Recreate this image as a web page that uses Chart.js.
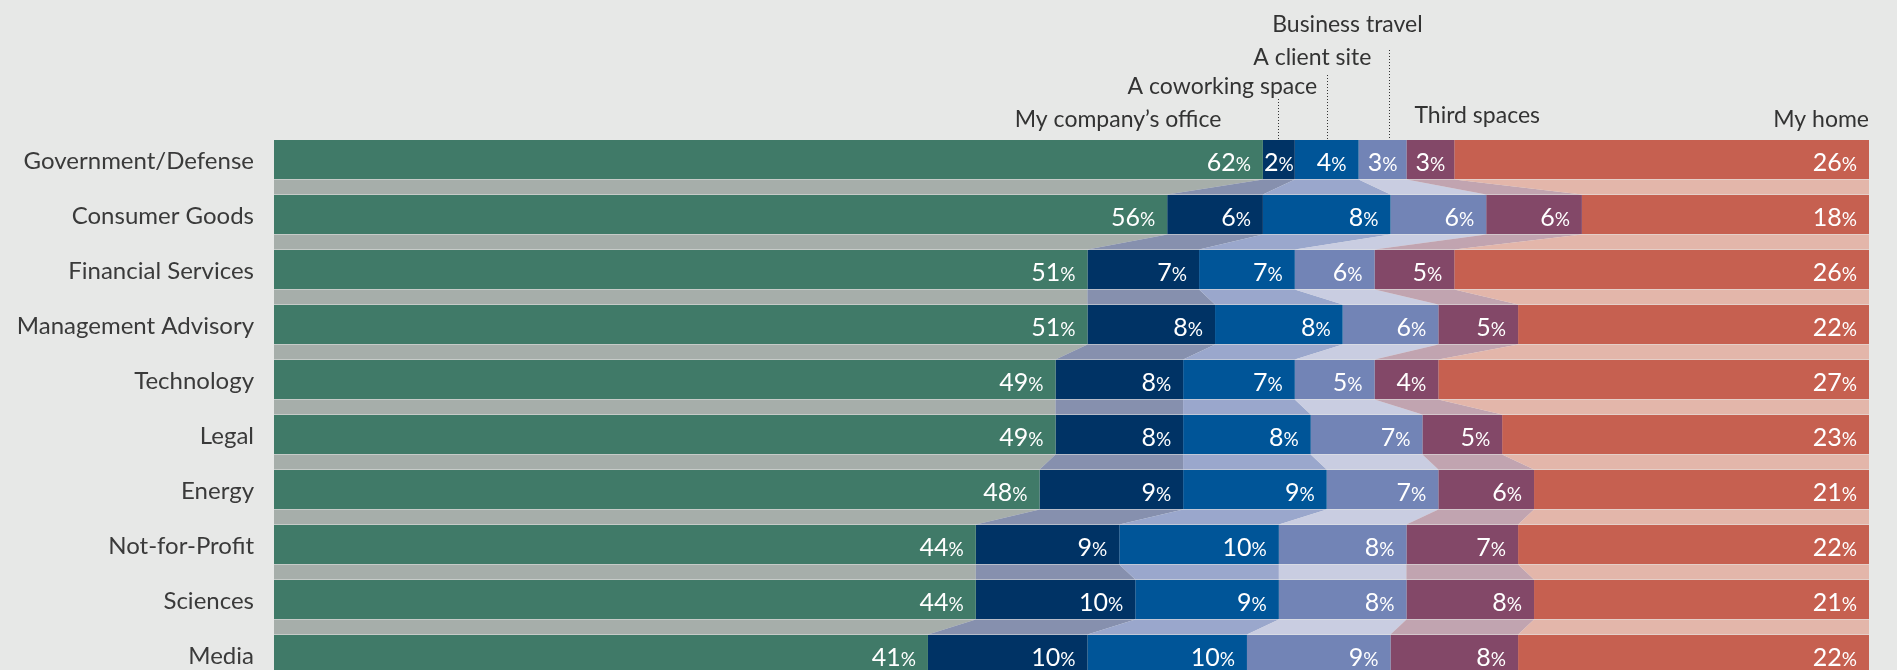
<!DOCTYPE html>
<html lang="en">
<head>
    <meta charset="UTF-8">
    <title>Where people work, by industry</title>
    <style>
        html, body { margin: 0; padding: 0; background: #e7e8e7; overflow: hidden; }
        .frame { width: 1897px; height: 670px; overflow: hidden; }
        canvas { display: block; }
    </style>
</head>
<body>
    <!-- the canvas is taller than the frame so the last row gets cut off like in the original -->
    <div class="frame">
        <canvas id="placesChart" width="1897" height="700"></canvas>
    </div>

    <script src="https://cdn.jsdelivr.net/npm/chart.js"></script>
    <script>
        // Industries, top to bottom
        const categories = ['Government/Defense', 'Consumer Goods', 'Financial Services', 'Management Advisory',
            'Technology', 'Legal', 'Energy', 'Not-for-Profit', 'Sciences', 'Media'];

        // Share of work time by place (%)
        const companyOffice  = [62, 56, 51, 51, 49, 49, 48, 44, 44, 41];
        const coworking      = [2, 6, 7, 8, 8, 8, 9, 9, 10, 10];
        const clientSite     = [4, 8, 6, 8, 7, 8, 9, 10, 9, 10];
        const businessTravel = [3, 6, 5, 6, 5, 7, 7, 8, 8, 9];
        const thirdSpaces    = [3, 6, 5, 5, 4, 5, 6, 7, 8, 8];
        const myHome         = [26, 18, 26, 22, 27, 23, 21, 22, 21, 22];

        // the printed labels on this row don't match the drawn widths
        const printedOverrides = { 'Financial Services': [51, 7, 7, 6, 5, 26] };

        const seriesNames = ['My company\u2019s office', 'A coworking space', 'A client site', 'Business travel', 'Third spaces', 'My home'];
        const seriesColors = ['#407a68', '#003365', '#005598', '#7284b6', '#834868', '#c66050'];
        const bandColors   = ['#a6aeaa', '#8690ae', '#9aa7cc', '#c9cde1', '#c1a4b0', '#e3b6aa'];
        const seriesValues = [companyOffice, coworking, clientSite, businessTravel, thirdSpaces, myHome];

        const FONT = 'Lato';

        // light connector bands between neighbouring bars
        const bandsPlugin = {
            id: 'bands',
            beforeDatasetsDraw(chart) {
                const ctx = chart.ctx;
                ctx.save();
                chart.data.datasets.forEach((ds, j) => {
                    const bars = chart.getDatasetMeta(j).data;
                    ctx.fillStyle = bandColors[j];
                    for (let i = 0; i < bars.length - 1; i++) {
                        const a = bars[i], b = bars[i + 1];
                        const aBottom = a.y + a.height / 2;
                        const bTop = b.y - b.height / 2;
                        ctx.beginPath();
                        ctx.moveTo(a.base, aBottom + 0.5);
                        ctx.lineTo(a.x, aBottom + 0.5);
                        ctx.lineTo(b.x, bTop - 0.5);
                        ctx.lineTo(b.base, bTop - 0.5);
                        ctx.closePath();
                        ctx.fill();
                    }
                });
                ctx.restore();
            }
        };

        // white value labels, the % sign set smaller; centred when the segment is narrow
        const valueLabelsPlugin = {
            id: 'valueLabels',
            afterDatasetsDraw(chart) {
                const ctx = chart.ctx;
                ctx.save();
                ctx.fillStyle = '#ffffff';
                ctx.textBaseline = 'alphabetic';
                ctx.textAlign = 'left';
                chart.data.datasets.forEach((ds, j) => {
                    chart.getDatasetMeta(j).data.forEach((bar, i) => {
                        const over = printedOverrides[categories[i]];
                        const num = String(over ? over[j] : ds.data[i]);
                        ctx.font = '19px ' + FONT;
                        const pw = ctx.measureText('%').width;
                        ctx.font = '25px ' + FONT;
                        const nw = ctx.measureText(num).width;
                        const w = nw + pw;
                        const segW = bar.x - bar.base;
                        let left = bar.x - 12 - w;
                        if (segW - w < 24) left = (bar.x + bar.base) / 2 - w / 2;
                        const base = bar.y + 11;
                        ctx.fillText(num, left, base);
                        ctx.font = '19px ' + FONT;
                        ctx.fillText('%', left + nw, base);
                    });
                });
                ctx.restore();
            }
        };

        // series names above the first bar, with dotted leaders for the narrow ones
        const headerPlugin = {
            id: 'header',
            afterDraw(chart) {
                const ctx = chart.ctx;
                const x = chart.scales.x;
                const top = chart.chartArea.top;
                const first = chart.getDatasetMeta(0).data[0];
                const firstBarTop = first.y - first.height / 2;
                const heads = [
                    { text: seriesNames[0], v: 59.4, dy: -5, align: 'right' },
                    { text: seriesNames[1], v: 65.4, dy: -38, align: 'right', lead: 62.95, leadTop: -33 },
                    { text: seriesNames[2], v: 68.8, dy: -67, align: 'right', lead: 66.0, leadTop: -57 },
                    { text: seriesNames[3], v: 67.3, dy: -100, align: 'center', lead: 69.9, leadTop: -82 },
                    { text: seriesNames[4], v: 71.5, dy: -9, align: 'left' },
                    { text: seriesNames[5], v: 100, dy: -5, align: 'right' }
                ];
                ctx.save();
                ctx.font = '23px ' + FONT;
                ctx.fillStyle = '#333333';
                ctx.textBaseline = 'alphabetic';
                heads.forEach(h => {
                    ctx.textAlign = h.align;
                    ctx.fillText(h.text, x.getPixelForValue(h.v), top + h.dy);
                    if (h.lead !== undefined) {
                        const lx = Math.round(x.getPixelForValue(h.lead)) + 0.5;
                        ctx.strokeStyle = '#333333';
                        ctx.lineWidth = 1;
                        ctx.setLineDash([1, 2]);
                        ctx.beginPath();
                        ctx.moveTo(lx, top + h.leadTop);
                        ctx.lineTo(lx, firstBarTop);
                        ctx.stroke();
                    }
                });
                ctx.restore();
            }
        };

        const ctx = document.getElementById('placesChart').getContext('2d');
        const chart = new Chart(ctx, {
            type: 'bar',
            data: {
                labels: categories,
                datasets: seriesValues.map((vals, j) => ({
                    label: seriesNames[j],
                    data: vals,
                    backgroundColor: seriesColors[j],
                    borderWidth: 0,
                    barPercentage: 39 / 55,
                    categoryPercentage: 1
                }))
            },
            options: {
                indexAxis: 'y',
                responsive: false,
                animation: false,
                devicePixelRatio: 1,
                layout: { padding: { top: 132, right: 28, bottom: 18, left: 0 } },
                plugins: {
                    legend: { display: false },
                    tooltip: { enabled: false }
                },
                scales: {
                    x: { stacked: true, min: 0, max: 100, display: false },
                    y: {
                        stacked: true,
                        grid: { display: false, drawTicks: false },
                        border: { display: false },
                        ticks: { color: '#3a3a3a', font: { family: FONT, size: 24 }, padding: 20, labelOffset: 2 },
                        afterFit(axis) {
                            axis.width = 274;
                            // don't let label heights eat into the plot height
                            axis.paddingTop = 0;
                            axis.paddingBottom = 0;
                        }
                    }
                }
            },
            plugins: [bandsPlugin, valueLabelsPlugin, headerPlugin]
        });
    </script>
</body>
</html>
